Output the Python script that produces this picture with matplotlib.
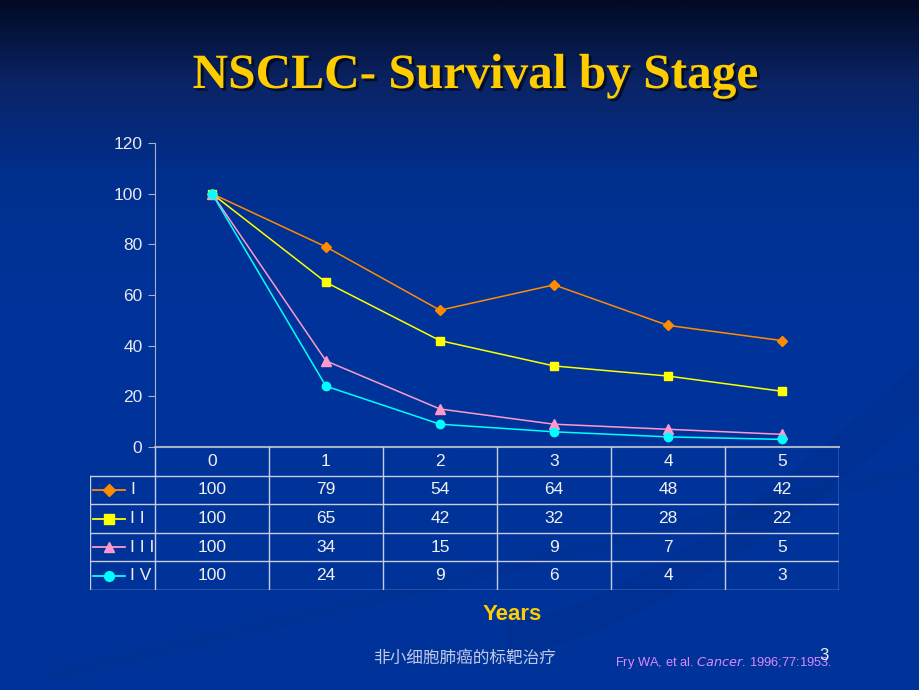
import numpy as np
import matplotlib
matplotlib.use("Agg")
import matplotlib.pyplot as plt
import matplotlib.patheffects as pe
from matplotlib.colors import LinearSegmentedColormap

years = [0, 1, 2, 3, 4, 5]
stages = ["I", "II", "III", "IV"]
stage_I = [100, 79, 54, 64, 48, 42]
stage_II = [100, 65, 42, 32, 28, 22]
stage_III = [100, 34, 15, 9, 7, 5]
stage_IV = [100, 24, 9, 6, 4, 3]
y_ticks = [0, 20, 40, 60, 80, 100, 120]

series = [stage_I, stage_II, stage_III, stage_IV]
colors = ["#ff8c00", "#ffff00", "#ff99cc", "#00ffff"]
markers = ["D", "s", "^", "o"]
msizes = [5.5, 6, 6.5, 6]

W, H = 920, 690
fig = plt.figure(figsize=(9.2, 6.9), dpi=100)

# background gradient (dark navy at top fading to royal blue)
bg = fig.add_axes([0, 0, 1, 1], zorder=-10)
grad = np.linspace(0, 1, 256).reshape(-1, 1)
cmap = LinearSegmentedColormap.from_list(
    "bg", [(0, "#020a24"), (0.12, "#0a2466"), (0.25, "#002f8e"), (0.45, "#00339a"), (1, "#00339a")])
bg.imshow(grad, aspect="auto", cmap=cmap, extent=[0, 1, 1, 0])
# faint decorative swooshes bottom right
t = np.linspace(0, 1, 200)
bg.fill_between(0.55 + 0.45 * t, 0.95 - 0.35 * t ** 1.5, 0.90 - 0.38 * t ** 1.5,
                color="#002c84", alpha=0.3, lw=0)
bg.fill_between(0.05 + 0.95 * t, 0.99 - 0.30 * t, 0.97 - 0.30 * t,
                color="#002c84", alpha=0.2, lw=0)
bg.set_xlim(0, 1)
bg.set_ylim(1, 0)
bg.axis("off")

# title with shadow
fig.text(475 / W, 1 - 76 / H, "NSCLC- Survival by Stage", ha="center", va="center",
         fontsize=35.5, fontweight="bold", family="Liberation Serif", color="#ffcc00",
         path_effects=[pe.SimplePatchShadow(offset=(2, -2), shadow_rgbFace="black", alpha=0.6),
                       pe.Normal()])

# chart
left, right = 155 / W, 839 / W
bottom, top = 1 - 447 / H, 1 - 143 / H
ax = fig.add_axes([left, bottom, right - left, top - bottom])
ax.patch.set_alpha(0)
for s, c, m, ms in zip(series, colors, markers, msizes):
    ax.plot(years, s, color=c, lw=1.1, marker=m, markersize=ms,
            markerfacecolor=c, markeredgecolor=c)
ax.set_xlim(-0.5, 5.5)
ax.set_ylim(0, 120)
ax.set_yticks(y_ticks)
ax.set_xticks([])
for sp in ["top", "right"]:
    ax.spines[sp].set_visible(False)
ax.spines["left"].set_color("#a8b0c8")
ax.spines["bottom"].set_color("#a8b0c8")
ax.spines["bottom"].set_linewidth(1.5)
ax.tick_params(axis="y", colors="#a8b0c8", labelcolor="#e8e8f0", labelsize=12.5, length=5, pad=4)
for lab in ax.get_yticklabels():
    lab.set_family("Liberation Sans")

# data table below chart
x_leg = -0.5 - 65 / 114
tab_top, tab_bot = 1 - 447 / H, 1 - 590 / H
tax = fig.add_axes([90 / W, tab_bot, right - 90 / W, tab_top - tab_bot])
tax.patch.set_alpha(0)
tax.set_xlim(x_leg, 5.5)
tax.set_ylim(5, 0)
tax.axis("off")
grid_c = "#c8cce0"
tax.plot([-0.5, -0.5], [0, 5], color=grid_c, lw=1)
for x in years:
    tax.plot([x + 0.5, x + 0.5], [0, 5], color=grid_c, lw=1)
tax.plot([x_leg, x_leg], [1, 5], color=grid_c, lw=1)
for r in range(1, 6):
    tax.plot([x_leg, 5.5], [r, r], color=grid_c, lw=1)

txt_kw = dict(ha="center", va="center", color="#f0f0f0", fontsize=12.5, family="Liberation Sans")
for x in years:
    tax.text(x, 0.5, str(x), **txt_kw)
for r, (name, s, c, m, ms) in enumerate(zip(stages, series, colors, markers, msizes), start=1):
    for x, v in zip(years, s):
        tax.text(x, r + 0.5, str(v), **txt_kw)
    lx0, lx1 = x_leg + 3 / 114, x_leg + 35 / 114
    tax.plot([lx0, lx1], [r + 0.5, r + 0.5], color=c, lw=1.3)
    tax.plot([(lx0 + lx1) / 2], [r + 0.5], marker=m, color=c, markersize=ms + 1)
    tax.text(x_leg + 40 / 114, r + 0.5, " ".join(name), ha="left", va="center",
             color="#f0f0f0", fontsize=12.5, family="Liberation Sans")

# x axis title
fig.text(512 / W, 1 - 614 / H, "Years", ha="center", va="center",
         fontsize=16, fontweight="bold", family="Liberation Sans", color="#ffcc00")

# footer
fig.text(465 / W, 1 - 658 / H, "非小细胞肺癌的标靶治疗", ha="center", va="center",
         fontsize=12, family=["Noto Sans CJK SC", "DejaVu Sans"], color="#c0c8e8")
fig.text(615 / W, 1 - 663 / H, "Fry WA, et al. $\\it{Cancer}$. 1996;77:1953.", ha="left", va="center",
         fontsize=9.3, family="Liberation Sans", color="#dd88ff")
fig.text(824 / W, 1 - 655 / H, "3", ha="center", va="center",
         fontsize=12, family="Liberation Sans", color="#f0f0f0")

fig.savefig("out.png", dpi=100)
